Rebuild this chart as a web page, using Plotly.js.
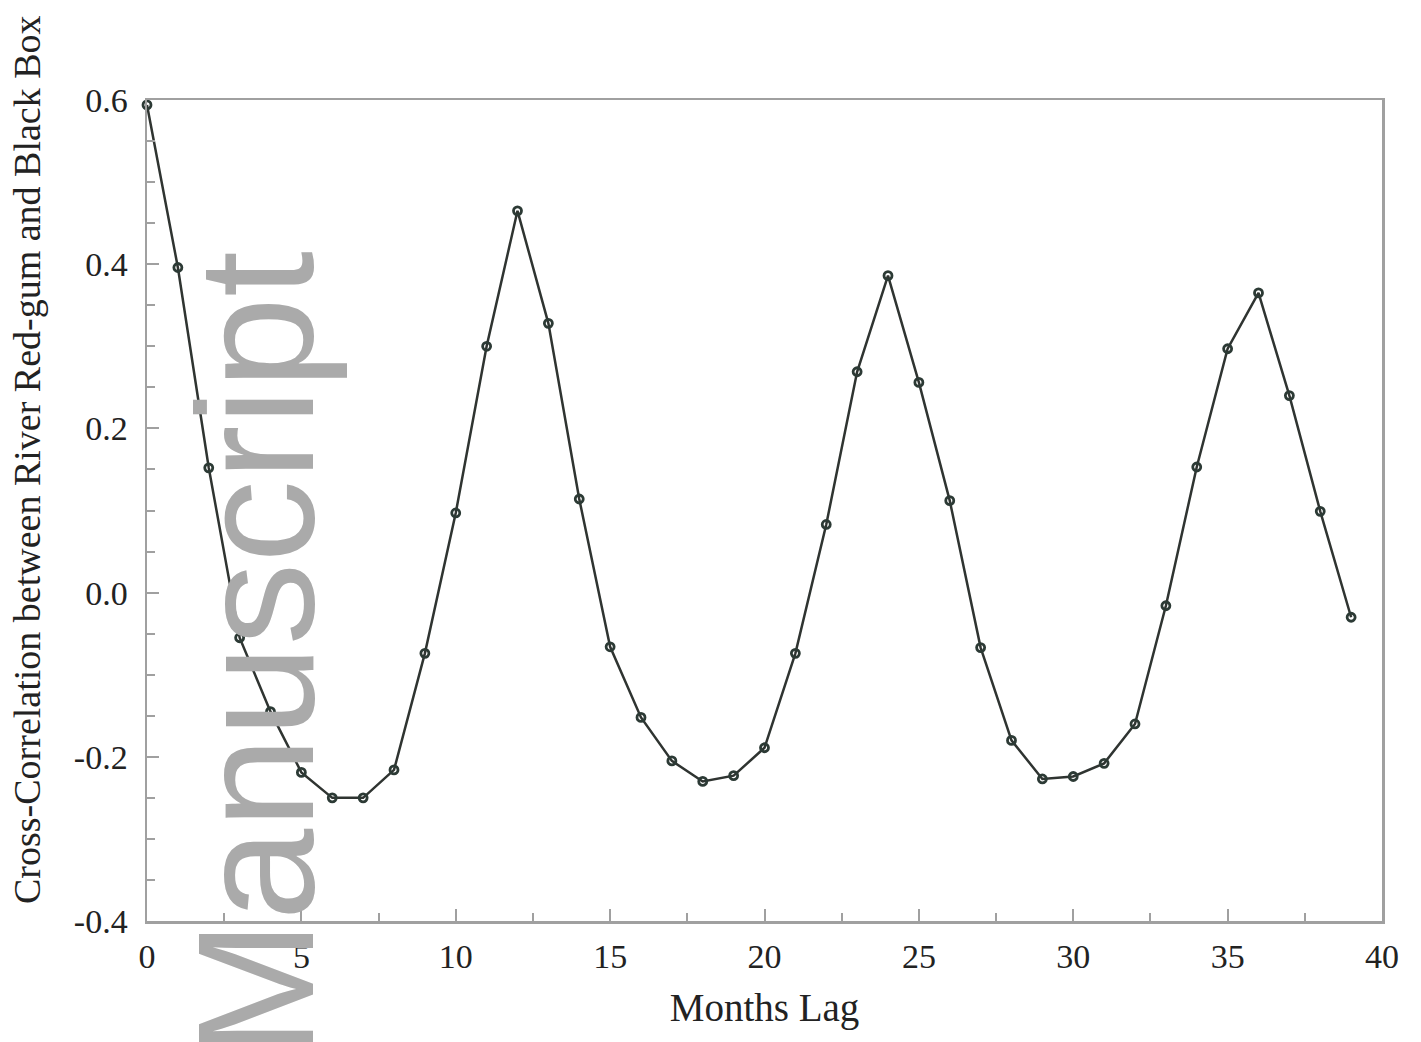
<!DOCTYPE html>
<html>
<head>
<meta charset="utf-8">
<script src="https://cdn.plot.ly/plotly-3.0.1.min.js"></script>
<style>
html,body{margin:0;padding:0;background:#fff;}
#chart{width:1421px;height:1042px;}
</style>
</head>
<body>
<div id="chart"></div>
<script>
const monthsLag = [0,1,2,3,4,5,6,7,8,9,10,11,12,13,14,15,16,17,18,19,20,21,22,23,24,25,26,27,28,29,30,31,32,33,34,35,36,37,38,39];
const crossCorrelation = [0.594,0.396,0.152,-0.055,-0.145,-0.219,-0.250,-0.250,-0.216,-0.074,0.097,0.300,0.465,0.328,0.114,-0.066,-0.152,-0.205,-0.230,-0.223,-0.189,-0.074,0.083,0.269,0.386,0.256,0.112,-0.067,-0.180,-0.227,-0.224,-0.208,-0.160,-0.016,0.153,0.297,0.365,0.240,0.099,-0.030];
const yTickVals = [-0.4,-0.2,0.0,0.2,0.4,0.6];
const yTickText = ["-0.4","-0.2","0.0","0.2","0.4","0.6"];
const xTickVals = [0,5,10,15,20,25,30,35,40];

const serif = "Liberation Serif, Times New Roman, serif";
const axisGray = "#a0a0a0";

const trace = {
  x: monthsLag,
  y: crossCorrelation,
  mode: "lines+markers",
  type: "scatter",
  line: {color: "#2f3431", width: 2.5},
  marker: {symbol: "circle-open", size: 8, color: "#2c3a35", line: {width: 2.8, color: "#2c3a35"}},
  cliponaxis: false,
  hoverinfo: "skip"
};

const layout = {
  width: 1421, height: 1042,
  paper_bgcolor: "#ffffff", plot_bgcolor: "#ffffff",
  margin: {l: 147, r: 39, t: 100, b: 121},
  showlegend: false,
  font: {family: serif, color: "#222222", size: 34},
  xaxis: {
    range: [0, 40], tickvals: xTickVals,
    showgrid: false, zeroline: false,
    showline: true, linecolor: axisGray, linewidth: 2.5, mirror: true,
    ticks: "inside", ticklen: 12, tickwidth: 2, tickcolor: axisGray,
    minor: {tickvals: [2.5,7.5,12.5,17.5,22.5,27.5,32.5,37.5], ticks: "inside", ticklen: 8, tickwidth: 2, tickcolor: axisGray},
    tickfont: {family: serif, size: 34, color: "#222"},
    ticklabelstandoff: 4,
    title: {text: "Months Lag", font: {family: serif, size: 39, color: "#222"}, standoff: 20}
  },
  yaxis: {
    range: [-0.4, 0.6], tickvals: yTickVals, ticktext: yTickText,
    showgrid: false, zeroline: false,
    showline: true, linecolor: axisGray, linewidth: 2.5, mirror: true,
    ticks: "inside", ticklen: 12, tickwidth: 2, tickcolor: axisGray,
    minor: {dtick: 0.05, ticks: "inside", ticklen: 8, tickwidth: 2, tickcolor: axisGray},
    tickfont: {family: serif, size: 34, color: "#222"},
    ticklabelstandoff: 10
  },
  annotations: [
    {
      text: "Cross-Correlation between River Red-gum and Black Box",
      textangle: -90, xref: "paper", yref: "paper",
      x: (27 - 147) / 1235, y: (921 - 460) / 821,
      xanchor: "center", yanchor: "middle", showarrow: false,
      font: {family: serif, size: 38, color: "#222"}
    },
    {
      text: "Manuscript",
      textangle: -90, xref: "paper", yref: "paper",
      x: (256 - 147) / 1235, y: (921 - 655) / 821,
      xanchor: "center", yanchor: "middle", showarrow: false,
      font: {family: "Liberation Sans, Arial, sans-serif", size: 165, color: "#aaaaaa"}
    }
  ]
};

Plotly.newPlot("chart", [trace], layout, {staticPlot: true, displayModeBar: false});
</script>
</body>
</html>
